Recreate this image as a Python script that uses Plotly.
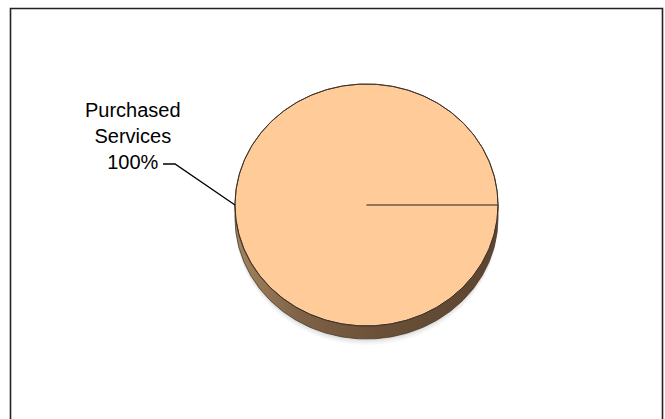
import numpy as np
import plotly.graph_objects as go

# Expense categories and their shares
categories = ["Purchased Services"]
values = [100]

W, H = 665, 419

# Pie geometry (pixel space, y grows downward)
CX, CY = 366.5, 205.0
RX, RY = 131.5, 121.0
DEPTH = 13.0

TOP_COLOR = "#FFCC99"
EDGE_COLOR = "#4a3a2a"
SIDE_SCALE = [[0.0, "#a3835f"], [0.25, "#7f6246"], [0.55, "#6a5038"], [1.0, "#5c4430"]]


def ellipse(theta, dy=0.0):
    return CX + RX * np.cos(theta), CY + RY * np.sin(theta) + dy


fig = go.Figure()

total = float(sum(values))
fractions = [v / total for v in values]
starts = np.concatenate([[0.0], np.cumsum(fractions)[:-1]]) * 2 * np.pi
ends = np.cumsum(fractions) * 2 * np.pi

# soft shadow under the disc
for k, alpha in enumerate([0.05, 0.04, 0.03]):
    t = np.linspace(0, np.pi, 120)
    sx, sy = ellipse(t, DEPTH + 2 + 2 * k)
    bx, by = ellipse(t[::-1], DEPTH - 4)
    fig.add_trace(go.Scatter(
        x=np.concatenate([sx, bx]), y=np.concatenate([sy, by]),
        mode="lines", line=dict(width=0), fill="toself",
        fillcolor=f"rgba(0,0,0,{alpha})", hoverinfo="skip", showlegend=False))

# side wall of the front half of each slice
for a0, a1 in zip(starts, ends):
    lo, hi = max(a0, 0.0), min(a1, np.pi)
    if hi <= lo:
        continue
    t = np.linspace(lo, hi, 200)
    ux, uy = ellipse(t)
    dx, dy = ellipse(t[::-1], DEPTH)
    fig.add_trace(go.Scatter(
        x=np.concatenate([ux, dx, ux[:1]]), y=np.concatenate([uy, dy, uy[:1]]),
        mode="lines", line=dict(color=EDGE_COLOR, width=0.8),
        fill="toself", fillgradient=dict(type="horizontal", colorscale=SIDE_SCALE),
        hoverinfo="skip", showlegend=False))

# top faces of the slices
for a0, a1, name in zip(starts, ends, categories):
    t = np.linspace(a0, a1, 400)
    ex, ey = ellipse(t)
    fig.add_trace(go.Scatter(
        x=np.concatenate([[CX], ex, [CX]]), y=np.concatenate([[CY], ey, [CY]]),
        mode="lines", line=dict(color="#6b5a48", width=1),
        fill="toself", fillcolor=TOP_COLOR, name=name,
        hoverinfo="name", showlegend=False))

# outer rim of the top face
t = np.linspace(0, 2 * np.pi, 400)
rx_, ry_ = ellipse(t)
fig.add_trace(go.Scatter(x=rx_, y=ry_, mode="lines",
                         line=dict(color="#3c3026", width=1),
                         hoverinfo="skip", showlegend=False))

# data labels with leader lines
for a0, a1, name, v in zip(starts, ends, categories, fractions):
    mid = (a0 + a1) / 2
    ax_, ay_ = ellipse(mid)
    tx, ty = 133.0, 135.5
    fig.add_trace(go.Scatter(
        x=[tx + 30, tx + 42, ax_], y=[ty + 28.5, ty + 28.5, ay_],
        mode="lines", line=dict(color="black", width=1.3),
        hoverinfo="skip", showlegend=False))
    fig.add_annotation(
        x=tx, y=ty, xref="x", yref="y", showarrow=False,
        text=f"{name.replace(' ', '<br>')}<br>{v * 100:.0f}%",
        font=dict(family="Liberation Sans, Arial", size=20, color="black"),
        align="center", xanchor="center", yanchor="middle")

# chart frame
fig.add_shape(type="rect", xref="x", yref="y", x0=10.5, x1=662.5, y0=8.5, y1=440,
              line=dict(color="#222222", width=1.6), fillcolor="rgba(0,0,0,0)")

fig.update_layout(
    width=W, height=H, margin=dict(l=0, r=0, t=0, b=0),
    paper_bgcolor="white", plot_bgcolor="white",
    xaxis=dict(range=[0, W], visible=False, fixedrange=True),
    yaxis=dict(range=[H, 0], visible=False, fixedrange=True),
)

fig.write_html("out.html")
